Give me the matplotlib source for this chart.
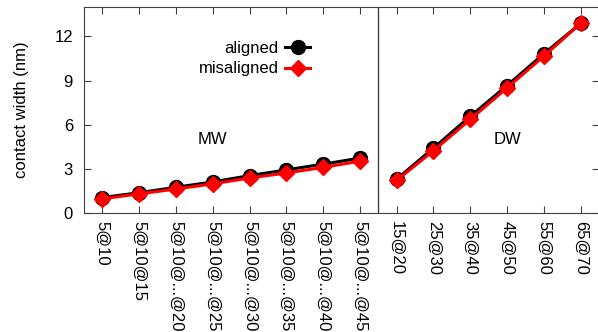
import matplotlib
matplotlib.use("Agg")
import matplotlib.pyplot as plt
import numpy as np

categories = ["5@10", "5@10@15", "5@10@...@20", "5@10@...@25", "5@10@...@30",
              "5@10@...@35", "5@10@...@40", "5@10@...@45",
              "15@20", "25@30", "35@40", "45@50", "55@60", "65@70"]
aligned = [1.05, 1.38, 1.75, 2.11, 2.54, 2.93, 3.32, 3.73,
           2.30, 4.41, 6.57, 8.66, 10.82, 12.88]
misaligned = [0.97, 1.30, 1.63, 1.98, 2.38, 2.72, 3.10, 3.52,
              2.22, 4.23, 6.36, 8.50, 10.66, 12.88]
n_mw = 8
yticks = [0, 3, 6, 9, 12]

plt.rcParams['font.family'] = ['Liberation Sans', 'DejaVu Sans']
plt.rcParams['font.size'] = 12

fig = plt.figure(figsize=(5.98, 3.32), dpi=100)
ax = fig.add_axes([84/598, (332-213)/332, (599-84)/598, (213-7)/332])

x = np.arange(len(categories))
segs = [(0, n_mw), (n_mw, len(categories))]
for i, (a, b) in enumerate(segs):
    ax.plot(x[a:b], aligned[a:b], color='black', lw=2.2, marker='o', ms=10,
            label='aligned' if i == 0 else None, zorder=3)
    ax.plot(x[a:b], misaligned[a:b], color='red', lw=2.2, marker='D', ms=8,
            label='misaligned' if i == 0 else None, zorder=4)

ax.axvline(n_mw - 0.5, color='#404040', lw=1.0)
ax.set_xlim(-0.5, len(categories) - 0.5)
ax.set_ylim(0, 14)
ax.set_yticks(yticks)
ax.set_xticks(x)
ax.set_xticklabels(categories, rotation=-90, va='top', ha='center')
ax.tick_params(axis='both', direction='in', length=5, color='#404040',
               top=True, right=True, labelright=False)
ax.tick_params(axis='x', pad=6)
ax.tick_params(axis='y', pad=8)
for s in ax.spines.values():
    s.set_color('#404040')
ax.set_ylabel('contact width (nm)', labelpad=18)

ax.text(3.0, 5.0, 'MW', ha='center', va='center', fontsize=12)
ax.text(11.0, 5.0, 'DW', ha='center', va='center', fontsize=12)

leg = ax.legend(loc='upper right', bbox_to_anchor=((317-84)/(599-84), (213-34)/206),
                markerfirst=False, frameon=False, handlelength=1.5,
                handletextpad=0.4, labelspacing=0.35, borderaxespad=0)

fig.savefig('out.png', dpi=100)
